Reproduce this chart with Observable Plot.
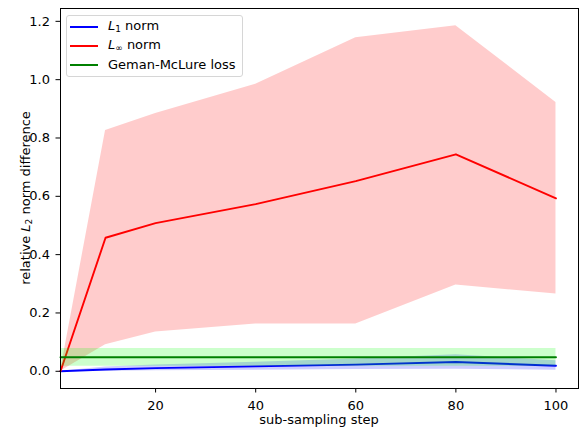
<!DOCTYPE html>
<html>
<head>
<meta charset="utf-8">
<script src="https://cdn.jsdelivr.net/npm/d3@7"></script>
<script src="https://cdn.jsdelivr.net/npm/@observablehq/plot@0.6"></script>
<style>
  html, body { margin: 0; padding: 0; background: #fff; }
  #wrap { position: relative; width: 579px; height: 430px; font-family: "DejaVu Sans", sans-serif; }
  .legend { position: absolute; left: 66px; top: 15px; width: 177px; height: 62px;
    border: 1px solid #d6d6d6; border-radius: 3px; background: rgba(255,255,255,0.8); box-sizing: border-box; font-size: 13px; color: #000; }
  .legend .row { position: absolute; left: 0; height: 0; }
  .legend .sw { position: absolute; left: 3px; top: -1px; width: 28px; height: 2px; }
  .legend .lab { position: absolute; left: 41px; white-space: nowrap; line-height: 14px; top: -7.5px; }
  .legend i { font-style: italic; }
  .legend sub { font-size: 9px; vertical-align: -2px; line-height: 0; }
</style>
</head>
<body>
<div id="wrap"></div>
<script>
const steps = [1, 10, 20, 40, 60, 80, 100];
const l1Mean = [0, 0.006, 0.011, 0.017, 0.023, 0.032, 0.019];
const l1Low  = [0, 0.000, 0.002, 0.004, 0.006, 0.007, 0.004];
const l1High = [0, 0.015, 0.022, 0.031, 0.042, 0.057, 0.036];
const linfMean = [0, 0.458, 0.508, 0.573, 0.652, 0.744, 0.593];
const linfLow  = [0, 0.091, 0.135, 0.162, 0.162, 0.296, 0.265];
const linfHigh = [0, 0.826, 0.884, 0.984, 1.144, 1.185, 0.922];
const gmMean = [0.048, 0.048, 0.048, 0.048, 0.048, 0.048, 0.048];
const gmLow  = [0.017, 0.017, 0.017, 0.017, 0.017, 0.017, 0.017];
const gmHigh = [0.078, 0.078, 0.078, 0.078, 0.078, 0.078, 0.078];
const xTicks = [20, 40, 60, 80, 100];
const yTicks = [0, 0.2, 0.4, 0.6, 0.8, 1.0, 1.2];

const series = [
  {name: "L1", mean: l1Mean, low: l1Low, high: l1High, line: "#0000ff", fill: "#0000ff"},
  {name: "Linf", mean: linfMean, low: linfLow, high: linfHigh, line: "#ff0000", fill: "#ff0000"},
  {name: "GM", mean: gmMean, low: gmLow, high: gmHigh, line: "#008000", fill: "#00ff00"}
];

const marks = [];
for (const s of series) {
  const rows = steps.map((x, i) => ({x, y: s.mean[i], lo: s.low[i], hi: s.high[i]}));
  marks.push(Plot.areaY(rows, {x: "x", y1: "lo", y2: "hi", fill: s.fill, fillOpacity: 0.2}));
  marks.push(Plot.lineY(rows, {x: "x", y: "y", stroke: s.line, strokeWidth: 1.9}));
}

const plot = Plot.plot({
  width: 579,
  height: 430,
  marginLeft: 60,
  marginRight: 1,
  marginTop: 8,
  marginBottom: 42,
  style: {fontFamily: "DejaVu Sans, sans-serif", fontSize: "13px", color: "#000", background: "#fff"},
  x: {domain: [1, 104.5]},
  y: {domain: [-0.059, 1.244]},
  marks: [
    ...marks,
    Plot.frame({stroke: "#000", strokeWidth: 1}),
    Plot.axisX({ticks: xTicks, tickSize: 4.5, tickPadding: 7.5, label: null, tickFormat: d3.format("d")}),
    Plot.axisY({ticks: yTicks, tickSize: 4.5, tickPadding: 6, label: null, tickFormat: d3.format(".1f")})
  ]
});

const wrap = document.getElementById("wrap");
wrap.appendChild(plot);

const svg = d3.select(plot);
svg.append("text")
  .attr("x", 319).attr("y", 423.5)
  .attr("text-anchor", "middle")
  .attr("font-size", 13)
  .attr("fill", "#000")
  .text("sub-sampling step");

const yl = svg.append("text")
  .attr("transform", "translate(29.5,198) rotate(-90)")
  .attr("text-anchor", "middle")
  .attr("font-size", 13)
  .attr("fill", "#000");
yl.append("tspan").text("relative ");
yl.append("tspan").attr("font-style", "italic").text("L");
yl.append("tspan").attr("font-size", 9).attr("dy", 2.5).text("2");
yl.append("tspan").attr("dy", -2.5).text(" norm difference");

const legendItems = [
  {color: "#0000ff", html: '<i>L</i><sub>1</sub> norm'},
  {color: "#ff0000", html: '<i>L</i><sub>∞</sub> norm'},
  {color: "#008000", html: 'Geman-McLure loss'}
];
const leg = document.createElement("div");
leg.className = "legend";
legendItems.forEach((it, i) => {
  const row = document.createElement("div");
  row.className = "row";
  row.style.top = (10.5 + i * 19.3) + "px";
  row.innerHTML = `<span class="sw" style="background:${it.color}"></span><span class="lab">${it.html}</span>`;
  leg.appendChild(row);
});
wrap.appendChild(leg);
</script>
</body>
</html>
